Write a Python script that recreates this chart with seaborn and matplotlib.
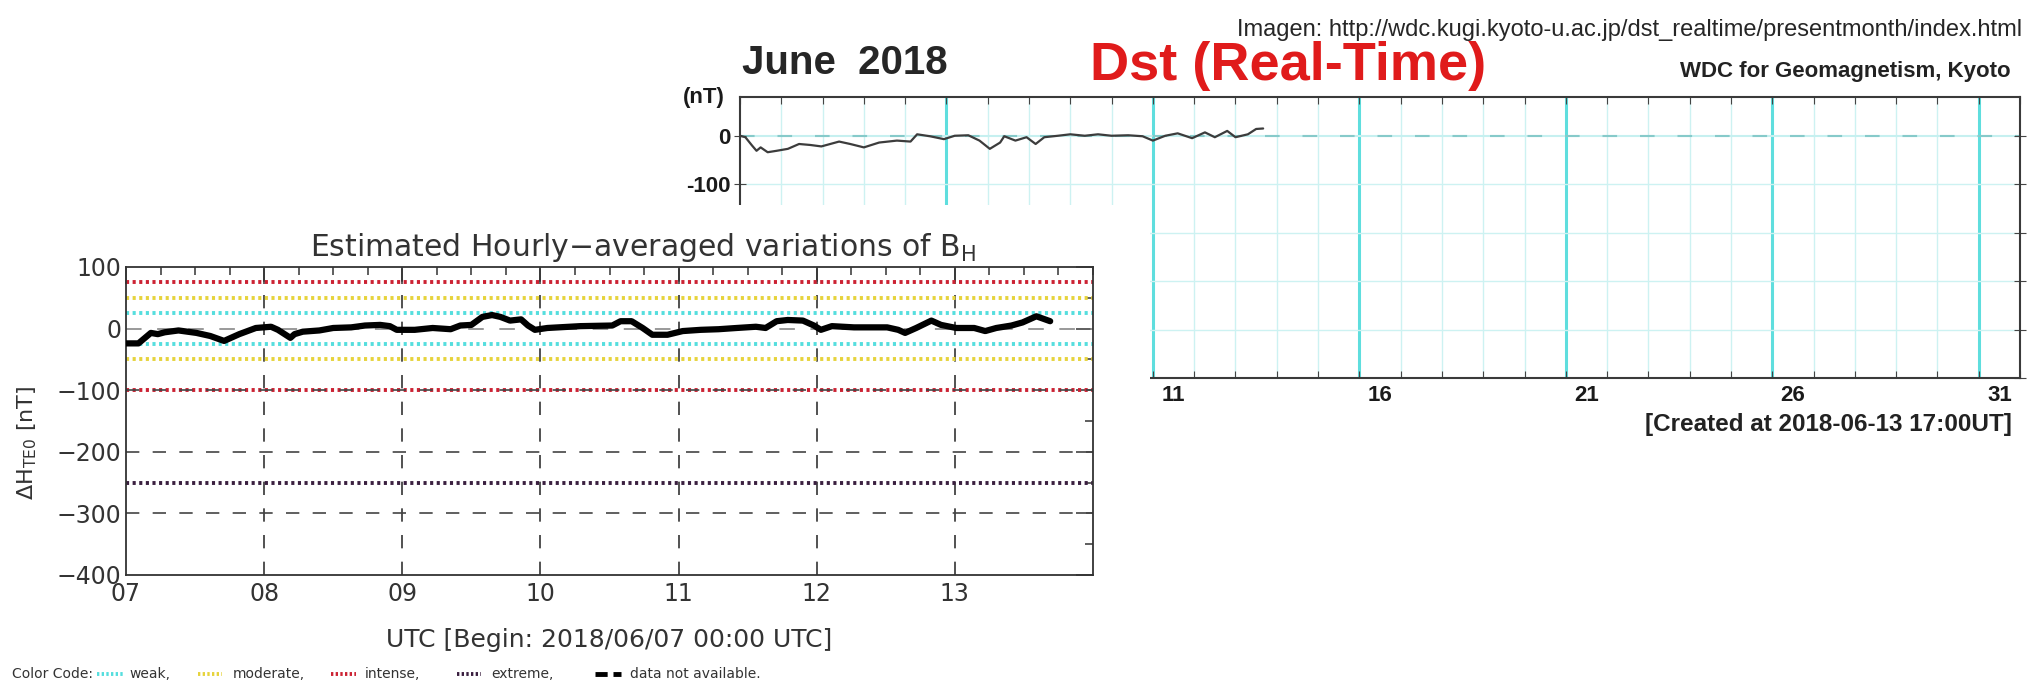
import seaborn as sns
import matplotlib.pyplot as plt
from matplotlib.lines import Line2D
from matplotlib.patches import Rectangle

# Dst real-time index, June 2018 (day of month, nT)
dst_day = [1.0, 1.13, 1.29, 1.4, 1.5, 1.67, 1.89, 2.16, 2.43, 2.7, 2.97, 3.4, 3.67, 4.0,
           4.37, 4.8, 5.13, 5.29, 5.6, 5.94, 6.2, 6.53, 6.8, 7.05, 7.3, 7.4, 7.67, 7.94,
           8.16, 8.37, 8.7, 9.0, 9.35, 9.67, 10.0, 10.4, 10.75, 11.0, 11.3, 11.6, 11.95,
           12.26, 12.5, 12.8, 13.0, 13.3, 13.5, 13.67]
dst_nt = [0, -3, -20, -31, -24, -34, -31, -27, -17, -19, -22, -12, -17, -24,
          -14, -10, -12, 3, -1, -7, 0, 1, -10, -27, -14, -1, -10, -3,
          -17, -3, 0, 3, 0, 3, 0, 1, -1, -10, 0, 5, -5,
          7, -3, 10, -3, 3, 14, 15]

# estimated hourly-averaged BH variations, 7-13 June 2018 (day, nT)
bh_day = [7.0, 7.09, 7.18, 7.23, 7.28, 7.38, 7.51, 7.61, 7.71, 7.82, 7.94, 8.05, 8.1,
          8.19, 8.22, 8.28, 8.4, 8.5, 8.63, 8.73, 8.84, 8.91, 8.96, 9.09, 9.22, 9.35,
          9.42, 9.5, 9.58, 9.65, 9.71, 9.78, 9.86, 9.91, 9.96, 10.05, 10.29, 10.52,
          10.58, 10.66, 10.74, 10.81, 10.92, 11.03, 11.16, 11.29, 11.42, 11.56, 11.63,
          11.71, 11.79, 11.9, 11.98, 12.03, 12.11, 12.27, 12.51, 12.59, 12.64, 12.72,
          12.83, 12.9, 13.01, 13.14, 13.22, 13.3, 13.41, 13.49, 13.59, 13.69]
bh_nt = [-24, -24, -7, -9, -6, -3, -7, -12, -20, -9, 1, 3, -2,
         -15, -9, -5, -3, 1, 2, 5, 6, 4, -2, -2, 1, -1,
         5, 6, 19, 22, 19, 13, 15, 5, -2, 1, 4, 5,
         12, 12, 1, -10, -10, -4, -2, -1, 1, 3, 1,
         12, 14, 13, 5, -2, 4, 2, 2, -2, -7, 1,
         13, 6, 1, 1, -4, 1, 5, 10, 20, 12]

dst_xlabels = ['1', '6', '11', '16', '21', '26', '31']
dst_yticks = [0, -100, -200, -300, -400, -500]
dst_ylabels = ['0', '-100', '', '', '', '']   # lower labels sit under the BH panel
bh_xticks = [7, 8, 9, 10, 11, 12, 13]
bh_xlabels = ['07', '08', '09', '10', '11', '12', '13']
bh_yticks = [100, 0, -100, -200, -300, -400]
bh_ylabels = ['100', '0', '\u2212100', '\u2212200', '\u2212300', '\u2212400']

# storm level lines (colour code)
level_names = ['weak,', 'moderate,', 'intense,', 'extreme,']
level_values = [[25, -25], [50, -50], [75, -100], [-250]]
level_colors = ['#55dede', '#e6d33c', '#cc2233', '#3a1f3f']

sns.set_style('white')
plt.rcParams['font.family'] = ['DejaVu Sans']
bold = ['Liberation Sans Narrow', 'Liberation Sans']

W, H = 2028, 691
fig = plt.figure(figsize=(W / 100, H / 100), dpi=100)

# ---- Kyoto Dst panel (background) ----
ax2 = fig.add_axes([740 / W, 1 - 378 / H, 1280 / W, 281 / H], zorder=1)
for d in range(2, 32):
    thick = (d - 1) % 5 == 0
    ax2.axvline(d, color='#5fdede' if thick else '#cdf2f2', lw=2.2 if thick else 1, zorder=0)
for v in [-100, -200, -300, -400]:
    ax2.axhline(v, color='#cdf2f2', lw=1, zorder=0)
ax2.axhline(0, color='#c6f0f0', lw=1.5, zorder=0)
ax2.axhline(0, color='#86caca', lw=1.5, dashes=(7, 11), zorder=0)
sns.lineplot(x=dst_day, y=dst_nt, ax=ax2, color='#3c3c3c', lw=1.6, zorder=3)
ax2.set_xlim(1, 32)
ax2.set_ylim(-500, 80)
ax2.set_xticks(range(1, 33))
ax2.set_xticklabels([])
ax2.set_xticks([int(s) + 0.5 for s in dst_xlabels], dst_xlabels, minor=True)
ax2.set_yticks(dst_yticks, dst_ylabels)
ax2.tick_params(axis='x', which='major', direction='in', top=True, bottom=True,
                length=5, color='#444')
ax2.tick_params(axis='x', which='minor', length=0, pad=5, labelsize=16)
ax2.tick_params(axis='y', direction='inout', left=True, right=True, length=8,
                color='#444', labelsize=16, pad=3)
for lab in ax2.get_xticklabels(minor=True) + ax2.get_yticklabels():
    lab.set_fontfamily(bold)
    lab.set_fontweight('bold')
    lab.set_color('#1a1a1a')
for s in ax2.spines.values():
    s.set_color('#3a3a3a')
    s.set_linewidth(1.5)
ax2.set_xlabel('')
ax2.set_ylabel('')
ax2.text(-0.012, 1.0, '(nT)', transform=ax2.transAxes, ha='right', va='center',
         fontsize=16, fontweight='bold', family=bold, color='#1a1a1a')

fig.text(0.997, 1 - 30 / H, 'Imagen: http://wdc.kugi.kyoto-u.ac.jp/dst_realtime/presentmonth/index.html',
         ha='right', va='center', fontsize=17, family=['Liberation Sans'])
fig.text(742 / W, 1 - 63 / H, 'June  2018', ha='left', va='center', fontsize=29,
         fontweight='bold', family=bold)
fig.text(1288 / W, 1 - 66 / H, 'Dst (Real-Time)', ha='center', va='center', fontsize=39,
         fontweight='bold', color='#e01b1b', family=bold)
fig.text(2011 / W, 1 - 72 / H, 'WDC for Geomagnetism, Kyoto', ha='right', va='center',
         fontsize=16, fontweight='bold', family=bold, color='#222')
fig.text(2012 / W, 1 - 424 / H, '[Created at 2018-06-13 17:00UT]', ha='right', va='center',
         fontsize=17.5, fontweight='bold', family=bold, color='#222')

# ---- white overlay holding the BH panel ----
fig.add_artist(Rectangle((0, 0), 1150 / W, (H - 205) / H, transform=fig.transFigure,
                         facecolor='white', edgecolor='none', zorder=2))

ax = fig.add_axes([126 / W, 1 - 575 / H, 967 / W, 308 / H], zorder=3)
ax.set_facecolor('none')
for xv in bh_xticks[1:]:
    ax.axvline(xv, color='#333', lw=1.2, dashes=(8, 8), zorder=1)
for v in [-100, -200, -300]:
    ax.axhline(v, color='#444', lw=1.2, dashes=(8, 8), zorder=2)
ax.axhline(0, color='#999', lw=1.4, dashes=(8, 8), zorder=1)
for vals, col in zip(level_values, level_colors):
    for v in vals:
        ax.axhline(v, color=col, lw=2.8, ls=(0, (0.8, 0.9)), zorder=1.5)
sns.lineplot(x=bh_day, y=bh_nt, ax=ax, color='black', lw=4.5, zorder=4)
ax.set_xlim(7, 14)
ax.set_ylim(-400, 100)
ax.set_xticks(bh_xticks, bh_xlabels)
ax.set_xticks([7 + i / 4 for i in range(29)], minor=True)
ax.set_yticks(bh_yticks, bh_ylabels)
ax.set_yticks(range(-350, 100, 100), minor=True)
ax.tick_params(which='both', direction='in', top=True, right=True, color='#333',
               labelsize=17, labelcolor='#333')
ax.tick_params(which='major', length=12, width=1.1)
ax.tick_params(which='minor', length=6, width=1.1)
ax.tick_params(axis='x', pad=5)
for s in ax.spines.values():
    s.set_color('#333')
    s.set_linewidth(1.3)
ax.set_title('Estimated Hourly\u2212averaged variations of B$_{\\rm H}$', fontsize=21.5,
             color='#333', pad=8, x=0.535)
ax.set_xlabel('UTC [Begin: 2018/06/07 00:00 UTC]', fontsize=18, color='#333', labelpad=16)
ax.set_ylabel('$\\Delta$H$_{\\rm TE0}$ [nT]', fontsize=16, color='#333')
ax.yaxis.set_label_coords(-0.09, 0.43)

# colour code key, drawn in figure pixels like the original strip
key_y = 1 - 674 / H
fig.text(12 / W, key_y, 'Color Code:', ha='left', va='center', fontsize=10, color='#333')
key_x = [(97, 123, 129), (198, 222, 233), (331, 356, 365), (457, 481, 491), (595, 621, 630)]
key_styles = [dict(color=c, lw=2.8, ls=(0, (0.6, 0.6))) for c in level_colors]
key_styles.append(dict(color='black', lw=3.5, dashes=(2.5, 1.2)))
for (x0, x1, xt), style, name in zip(key_x, key_styles, level_names + ['data not available.']):
    fig.add_artist(Line2D([x0 / W, x1 / W], [key_y, key_y], transform=fig.transFigure, **style))
    fig.text(xt / W, key_y, name, ha='left', va='center', fontsize=10, color='#333')

fig.savefig('out.png', dpi=100, facecolor='white')
